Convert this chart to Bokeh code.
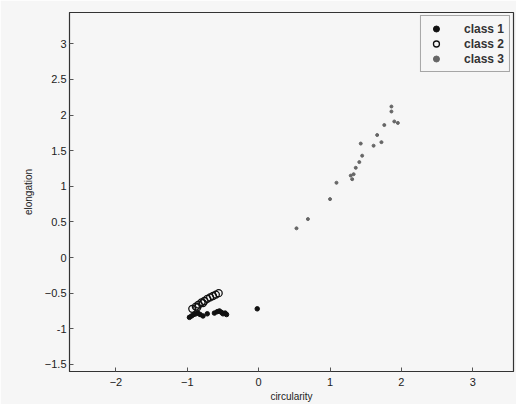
from bokeh.plotting import figure
from bokeh.models import Range1d, Legend, LegendItem, FixedTicker
from bokeh.embed import file_html
from bokeh.resources import INLINE

# class 1 (black dots)
c1_x = [-0.97, -0.94, -0.91, -0.88, -0.85, -0.82, -0.78, -0.72, -0.62, -0.58, -0.55, -0.52, -0.50, -0.47, -0.45, -0.02]
c1_y = [-0.84, -0.82, -0.80, -0.79, -0.78, -0.80, -0.82, -0.79, -0.78, -0.76, -0.75, -0.77, -0.79, -0.78, -0.80, -0.72]
# class 2 (open circles)
c2_x = [-0.93, -0.88, -0.84, -0.80, -0.76, -0.72, -0.68, -0.64, -0.60, -0.56, -0.86, -0.78]
c2_y = [-0.72, -0.69, -0.66, -0.63, -0.61, -0.58, -0.56, -0.54, -0.52, -0.50, -0.70, -0.64]
# class 3 (grey dots)
c3_x = [0.53, 0.69, 1.00, 1.09, 1.29, 1.31, 1.33, 1.36, 1.41, 1.45, 1.43, 1.61, 1.66, 1.72, 1.76, 1.86, 1.86, 1.90, 1.95]
c3_y = [0.41, 0.54, 0.82, 1.05, 1.15, 1.10, 1.17, 1.26, 1.34, 1.43, 1.60, 1.57, 1.72, 1.62, 1.86, 2.12, 2.05, 1.91, 1.89]

x_ticks = [-2, -1, 0, 1, 2, 3]
y_ticks = [-1.5, -1, -0.5, 0, 0.5, 1, 1.5, 2, 2.5, 3]
x_label = "circularity"
y_label = "elongation"
names = ["class 1", "class 2", "class 3"]

FONT = "Liberation Sans"
BG = "#f6f6f6"

p = figure(width=516, height=404, output_backend="svg", toolbar_location=None,
           x_range=Range1d(-2.65, 3.57), y_range=Range1d(-1.6, 3.44),
           min_border_left=69, min_border_right=3, min_border_top=12, min_border_bottom=30,
           background_fill_color=BG, border_fill_color=BG)
p.grid.visible = False
p.outline_line_color = "#333333"
p.outline_line_width = 1.2

for ax, lab, ticks in ((p.xaxis[0], x_label, x_ticks), (p.yaxis[0], y_label, y_ticks)):
    ax.ticker = FixedTicker(ticks=ticks)
    ax.axis_label = lab
    ax.axis_label_text_font = FONT
    ax.axis_label_text_font_style = "normal"
    ax.axis_label_text_font_size = "10px"
    ax.axis_label_text_color = "#222222"
    ax.major_label_text_font = FONT
    ax.major_label_text_font_size = "11px"
    ax.major_label_text_color = "#222222"
    ax.major_tick_in = 4
    ax.major_tick_out = 0
    ax.minor_tick_line_color = None
    ax.axis_line_color = "#333333"
    ax.major_tick_line_color = "#555555"
p.xaxis[0].major_label_standoff = 6
p.xaxis[0].axis_label_standoff = 2
p.yaxis[0].major_label_standoff = 3
p.yaxis[0].axis_label_standoff = 8
p.yaxis[0].major_label_overrides = {3: "3", 2: "2", 1: "1", 0: "0", -1: "-1"}

r1 = p.scatter(c1_x, c1_y, marker="circle", size=4.5, fill_color="#111111", line_color="#111111")
r2 = p.scatter(c2_x, c2_y, marker="circle", size=7, fill_color=None, line_color="#111111", line_width=1.3)
r3 = p.scatter(c3_x, c3_y, marker="circle", size=3, fill_color="#666666", line_color="#666666")

legend = Legend(items=[LegendItem(label=names[0], renderers=[r1]),
                       LegendItem(label=names[1], renderers=[r2]),
                       LegendItem(label=names[2], renderers=[r3])],
                location="top_right", margin=3, padding=5, spacing=0,
                label_text_font=FONT, label_text_font_size="12px", label_text_font_style="bold",
                label_text_color="#333333", label_standoff=18, glyph_width=20, glyph_height=15,
                label_height=15,
                border_line_color="#555555", border_line_width=1.2,
                background_fill_color=BG, background_fill_alpha=1)
p.add_layout(legend)

open("out.html", "w").write(file_html(p, INLINE))
